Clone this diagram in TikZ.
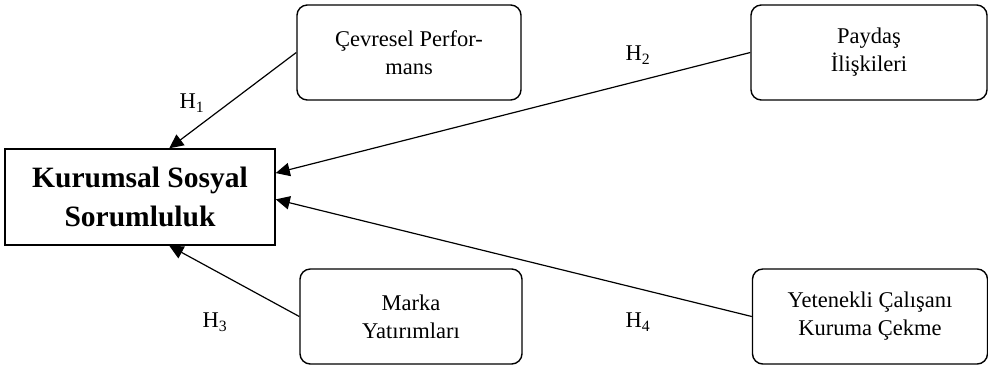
\documentclass[tikz,border=0pt]{standalone}
\usepackage{fontspec}
\setmainfont{Liberation Serif}
\usepackage{tikz}
\usetikzlibrary{arrows.meta}

\begin{document}
\begin{tikzpicture}[x=0.025cm, y=-0.025cm,
                    main_node/.style={rectangle, draw=black, line width=1pt, minimum width=6.75cm, minimum height=2.4cm, align=center, font=\fontsize{21}{28}\selectfont\bfseries},
                    factor_node/.style={rectangle, rounded corners=0.26cm, draw=black, line width=1pt, minimum height=2.375cm, align=center, font=\fontsize{16}{20}\selectfont},
                    hyp_label/.style={font=\fontsize{16}{20}\selectfont},
                    hyp_arrow/.style={draw=black, line width=0.85pt, -{Triangle[length=10pt, width=9.5pt]}}
                ]
                    \useasboundingbox (0,0) rectangle (988,368);
                    \node[main_node] (kss) at (140,197) {Kurumsal Sosyal\\Sorumluluk};
                    \node[factor_node, minimum width=5.6cm] (cevre) at (409,52.5) {Çevresel Perfor-\\mans};
                    \node[factor_node, minimum width=5.9cm] (paydas) at (869,52.5) {Paydaş\\İlişkileri};
                    \node[factor_node, minimum width=5.55cm] (marka) at (411,316.5) {Marka\\Yatırımları};
                    \node[factor_node, minimum width=5.875cm] (yetenek) at (870,316.5) {Yetenekli Çalışanı\\Kuruma Çekme};
                    \draw[hyp_arrow] (cevre.west) -- (kss.59);
                    \draw[hyp_arrow] (paydas.west) -- (kss.10);
                    \draw[hyp_arrow] (marka.west) -- (kss.-59);
                    \draw[hyp_arrow] (yetenek.west) -- (kss.-1);
                    \node[hyp_label] (h1) at (192,103) {H\textsubscript{1}};
                    \node[hyp_label] (h2) at (638,55) {H\textsubscript{2}};
                    \node[hyp_label] (h3) at (215,322) {H\textsubscript{3}};
                    \node[hyp_label] (h4) at (638,322) {H\textsubscript{4}};
                \end{tikzpicture}
\end{document}
